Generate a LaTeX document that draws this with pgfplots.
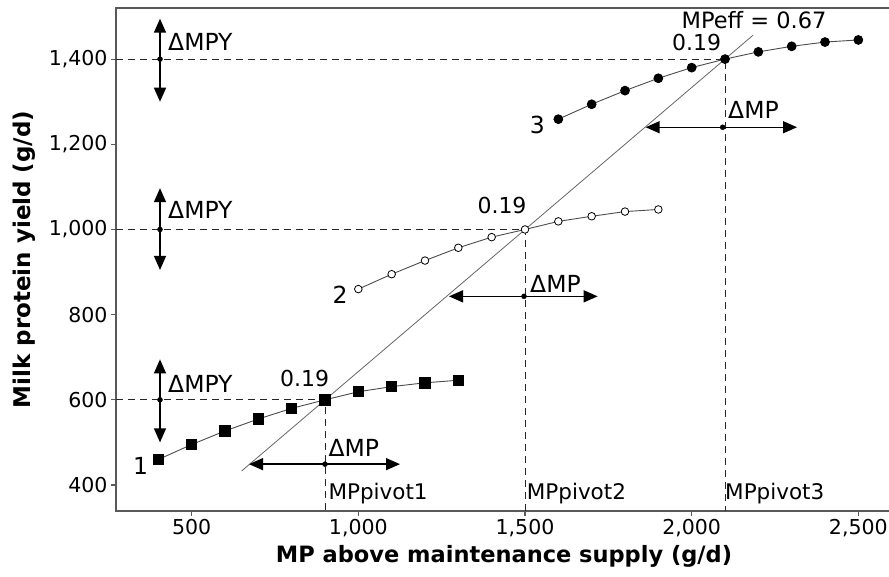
\documentclass[border=0pt]{standalone}
\usepackage{fontspec}
\setmainfont{DejaVu Sans}
\usepackage{pgfplots}
\pgfplotsset{compat=1.18}
\usetikzlibrary{arrows.meta}

\tikzset{
    ann/.style={font=\fontsize{23.5bp}{26bp}\selectfont, text=black, inner sep=0pt},
    dbl/.style={black, line width=1.4bp, {Triangle[length=14bp,width=12bp]}-{Triangle[length=14bp,width=12bp]}},
    guide/.style={black!85, line width=0.9bp, dash pattern=on 7bp off 5bp},
}

\begin{document}
\begin{tikzpicture}
    \begin{axis}[
            at={(116bp,66bp)}, anchor=south west,
            scale only axis,
            width = 776bp,
            height = 503bp,
            xmin = 273, xmax = 2601,
            ymin = 339, ymax = 1520,
            xtick = {500,1000,1500,2000,2500},
            ytick = {400,600,800,1000,1200,1400},
            tick pos = left,
            tick align = outside,
            major tick length = 5bp,
            axis line style = {black!65, line width=1.1bp},
            tick style = {black!65, line width=1.1bp},
            /pgf/number format/assume math mode=true,
            /pgf/number format/1000 sep={,},
            ticklabel style = {font=\fontsize{20.5bp}{23bp}\selectfont},
            xlabel = {MP above maintenance supply (g/d)},
            ylabel = {Milk protein yield (g/d)},
            every axis x label/.style = {at={(axis description cs:0.5,0)}, anchor=center, yshift=-45bp, font=\fontsize{22.5bp}{25bp}\selectfont\bfseries},
            every axis y label/.style = {at={(axis description cs:0,0.5)}, anchor=center, xshift=-92bp, rotate=90, font=\fontsize{23bp}{25bp}\selectfont\bfseries},
            clip = false,
        ]
        % guide lines to the pivots
        \addplot [guide] coordinates {(273,600) (900,600) (900,339)};
        \addplot [guide] coordinates {(273,1000) (1500,1000) (1500,339)};
        \addplot [guide] coordinates {(273,1400) (2100,1400) (2100,339)};

        % MPeff line
        \addplot [black!60, line width=0.8bp] coordinates {(650,433) (2184,1456)};

        % series 1
        \addplot [black!70, line width=0.9bp, mark=square*, mark size=5.2bp, mark options={black, solid}]
        coordinates {
                (400,460) (500,495) (600,527) (700,555) (800,580)
                (900,600) (1000,619) (1100,631) (1200,640) (1300,646)
            };
        % series 2
        \addplot [black!70, line width=0.9bp, mark=*, mark size=3.8bp, mark options={draw=black, fill=white, line width=0.8bp}]
        coordinates {
                (1000,860) (1100,895) (1200,927) (1300,957) (1400,982)
                (1500,1000) (1600,1019) (1700,1031) (1800,1042) (1900,1047)
            };
        % series 3
        \addplot [black!70, line width=0.9bp, mark=*, mark size=4.4bp, mark options={black}]
        coordinates {
                (1600,1259) (1700,1294) (1800,1326) (1900,1355) (2000,1380)
                (2100,1400) (2200,1417) (2300,1430) (2400,1440) (2500,1445)
            };

        % delta MPY arrows
        \addplot [dbl] coordinates {(405,500) (405,695)};
        \addplot [dbl] coordinates {(405,905) (405,1097)};
        \addplot [dbl] coordinates {(405,1300) (405,1495)};
        % delta MP arrows
        \addplot [dbl] coordinates {(672,449) (1125,449)};
        \addplot [dbl] coordinates {(1272,843) (1718,843)};
        \addplot [dbl] coordinates {(1862,1240) (2316,1240)};
        % centre dots
        \addplot [only marks, mark=*, mark size=2.5bp, black]
        coordinates {(405,600) (405,1000) (405,1400) (900,449) (1497,843) (2093,1240)};

        % labels
        \node [ann, anchor=west] at (axis cs:429,638) {ΔMPY};
        \node [ann, anchor=west] at (axis cs:429,1047) {ΔMPY};
        \node [ann, anchor=west] at (axis cs:429,1440) {ΔMPY};
        \node [ann, anchor=west] at (axis cs:910,487) {ΔMP};
        \node [ann, anchor=west] at (axis cs:1515,871) {ΔMP};
        \node [ann, anchor=west] at (axis cs:2109,1281) {ΔMP};
        \node [ann] at (axis cs:347,445) {1};
        \node [ann] at (axis cs:945,847) {2};
        \node [ann] at (axis cs:1537,1246) {3};
        \node [ann, font=\fontsize{22bp}{24bp}\selectfont] at (axis cs:839,650) {0.19};
        \node [ann, font=\fontsize{22bp}{24bp}\selectfont] at (axis cs:1431,1057) {0.19};
        \node [ann, font=\fontsize{22bp}{24bp}\selectfont] at (axis cs:2015,1439) {0.19};
        \node [ann, font=\fontsize{22.5bp}{24bp}\selectfont] at (axis cs:2187,1492) {MPeff = 0.67};
        \node [ann, anchor=west, font=\fontsize{21.5bp}{24bp}\selectfont] at (axis cs:910,379) {MPpivot1};
        \node [ann, anchor=west, font=\fontsize{21.5bp}{24bp}\selectfont] at (axis cs:1505,379) {MPpivot2};
        \node [ann, anchor=west, font=\fontsize{21.5bp}{24bp}\selectfont] at (axis cs:2100,379) {MPpivot3};
    \end{axis}
    \pgfresetboundingbox
    \path [use as bounding box] (0,0) rectangle (889bp,577bp);
\end{tikzpicture}
\end{document}
